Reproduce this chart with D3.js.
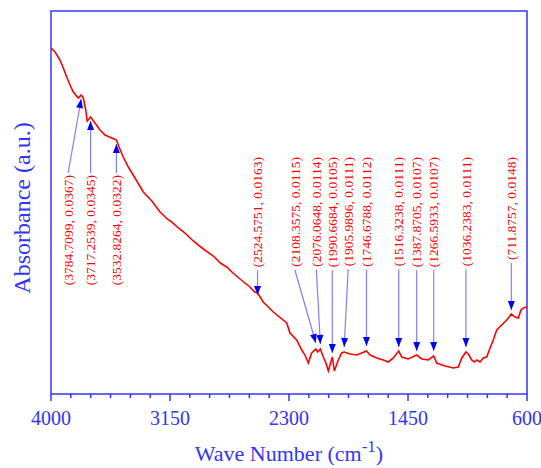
<html>
<head>
    <script src="https://d3js.org/d3.v7.min.js"></script>
</head>
<body style="margin:0">
    <svg id="chartArea" width="541" height="468"></svg>
    <script>
        // spectrum (wave number, absorbance)
        const waveNumbers = [4000, 3971, 3936, 3912, 3888, 3864, 3841, 3805, 3784.7, 3769, 3752, 3741, 3717.3, 3686, 3650, 3614, 3566, 3532.8, 3514, 3484, 3448, 3400, 3341, 3280, 3221, 3170, 3138, 3090, 3043, 2984, 2912, 2841, 2790, 2745, 2700, 2650, 2579, 2545, 2524.6, 2484, 2412, 2316, 2293, 2245, 2209, 2186, 2162, 2138, 2108.4, 2095, 2076.1, 2055, 2036, 2019, 1990.7, 1976, 1948, 1924, 1906, 1864, 1816, 1781, 1746.7, 1721, 1674, 1626, 1591, 1555, 1516.3, 1495, 1448, 1387.9, 1352, 1305, 1266.6, 1245, 1186, 1126, 1091, 1066, 1036.2, 1019, 995, 976, 959, 936, 912, 888, 864, 841, 816, 781, 745, 711.9, 686, 662, 643, 626, 600];
        const absorbance = [0.0415, 0.0411, 0.0403, 0.0395, 0.0386, 0.0378, 0.0371, 0.0365, 0.0368, 0.0365, 0.0353, 0.0342, 0.0346, 0.0340, 0.0333, 0.0328, 0.0325, 0.0323, 0.0316, 0.0306, 0.0296, 0.0285, 0.0271, 0.0262, 0.0251, 0.0244, 0.0241, 0.0235, 0.0230, 0.0222, 0.0214, 0.0207, 0.0200, 0.0196, 0.0190, 0.0184, 0.0176, 0.0171, 0.0170, 0.0161, 0.0151, 0.0140, 0.0130, 0.0123, 0.0113, 0.0108, 0.0100, 0.0110, 0.0114, 0.0111, 0.0114, 0.0106, 0.0100, 0.0092, 0.0106, 0.0092, 0.0103, 0.0110, 0.0111, 0.0109, 0.0108, 0.0110, 0.0112, 0.0108, 0.0105, 0.0103, 0.0101, 0.0105, 0.0112, 0.0106, 0.0104, 0.0108, 0.0104, 0.0103, 0.0107, 0.0100, 0.0097, 0.0095, 0.0096, 0.0105, 0.0111, 0.0109, 0.0103, 0.0101, 0.0103, 0.0101, 0.0105, 0.0106, 0.0115, 0.0123, 0.0133, 0.0138, 0.0143, 0.0149, 0.0146, 0.0145, 0.0153, 0.0155, 0.0156];

        // marked peaks
        const peakWave = [3784.7099, 3717.2539, 3532.8264, 2524.5751, 2108.3575, 2076.0648, 1990.6684, 1905.9896, 1746.6788, 1516.3238, 1387.8705, 1266.5933, 1036.2383, 711.8757];
        const peakValue = [0.0367, 0.0345, 0.0322, 0.0163, 0.0115, 0.0114, 0.0105, 0.0111, 0.0112, 0.0111, 0.0107, 0.0107, 0.0111, 0.0148];

        const xTicks = [4000, 3150, 2300, 1450, 600];

        const svg = d3.select("#chartArea");
        const blue = "#3333ff";
        const plotLeft = 51, plotRight = 527, plotTop = 11, plotBottom = 394;

        const x = d3.scaleLinear().domain([4000, 600]).range([plotLeft, plotRight]);
        const y = d3.scaleLinear().domain([0.0069, 0.0452]).range([plotBottom, plotTop]);

        // frame
        svg.append("rect")
            .attr("x", plotLeft).attr("y", plotTop)
            .attr("width", plotRight - plotLeft).attr("height", plotBottom - plotTop)
            .attr("fill", "none").attr("stroke", blue).attr("stroke-width", 1.5);

        // bottom axis with 5 minor ticks between majors
        const minor = d3.range(0, 25).map(i => 4000 - i * 850 / 6);
        svg.append("g").selectAll("line").data(minor).join("line")
            .attr("x1", d => x(d)).attr("x2", d => x(d))
            .attr("y1", plotBottom)
            .attr("y2", (d, i) => plotBottom + (i % 6 === 0 ? 7 : 4))
            .attr("stroke", blue).attr("stroke-width", 1.5);

        svg.append("g").selectAll("text").data(xTicks).join("text")
            .attr("x", d => x(d)).attr("y", 425)
            .attr("text-anchor", "middle")
            .attr("font-family", "Liberation Serif")
            .attr("font-size", 20)
            .attr("fill", blue)
            .text(d => d);

        // axis titles
        const xt = svg.append("text")
            .attr("x", (plotLeft + plotRight) / 2).attr("y", 461)
            .attr("text-anchor", "middle")
            .attr("font-family", "Liberation Serif")
            .attr("font-size", 22)
            .attr("fill", blue);
        xt.append("tspan").text("Wave Number (cm");
        xt.append("tspan").attr("dy", -9).attr("font-size", 17).text("-1");
        xt.append("tspan").attr("dy", 9).text(")");

        svg.append("text")
            .attr("transform", "translate(30,208) rotate(-90)")
            .attr("text-anchor", "middle")
            .attr("font-family", "Liberation Serif")
            .attr("font-size", 24)
            .attr("fill", blue)
            .text("Absorbance (a.u.)");

        // spectrum
        const pts = waveNumbers.map((w, i) => [w, absorbance[i]]);
        svg.append("path")
            .datum(pts)
            .attr("fill", "none")
            .attr("stroke", "#ff0000")
            .attr("stroke-width", 1.6)
            .attr("d", d3.line().x(d => x(d[0])).y(d => y(d[1])));

        // annotations
        const labelNudge = { 0: -13, 4: -21, 5: -4, 7: 4 };
        const ann = svg.append("g");

        function arrow(x1, y1, x2, y2) {
            ann.append("line")
                .attr("x1", x1).attr("y1", y1).attr("x2", x2).attr("y2", y2)
                .attr("stroke", "#7f7fff").attr("stroke-width", 1.2);
            const a = Math.atan2(y2 - y1, x2 - x1);
            const len = 9, hw = 3.5;
            const bx = x2 - len * Math.cos(a), by = y2 - len * Math.sin(a);
            const px = -Math.sin(a) * hw, py = Math.cos(a) * hw;
            ann.append("path")
                .attr("d", `M${x2},${y2}L${bx + px},${by + py}L${bx - px},${by - py}Z`)
                .attr("fill", "#0000ff");
        }

        peakWave.forEach((w, i) => {
            const px = x(w);
            const lx = px + (labelNudge[i] || 0);
            const up = w > 3000;
            const endY = up ? 175 : 157;
            const t = ann.append("text")
                .attr("transform", `translate(${lx},${endY}) rotate(-90)`)
                .attr("text-anchor", "end")
                .attr("dy", "0.35em")
                .attr("font-family", "Liberation Serif")
                .attr("font-size", 13.5)
                .attr("fill", "#ff0000")
                .text(`(${w.toFixed(4)}, ${peakValue[i].toFixed(4)})`);
            if (up) {
                arrow(lx, endY - 2, px, y(peakValue[i]) + 3);
            } else {
                const len = t.node().getComputedTextLength();
                arrow(lx, endY + len + 3, px, y(peakValue[i]) - 5);
            }
        });
    </script>
</body>
</html>
